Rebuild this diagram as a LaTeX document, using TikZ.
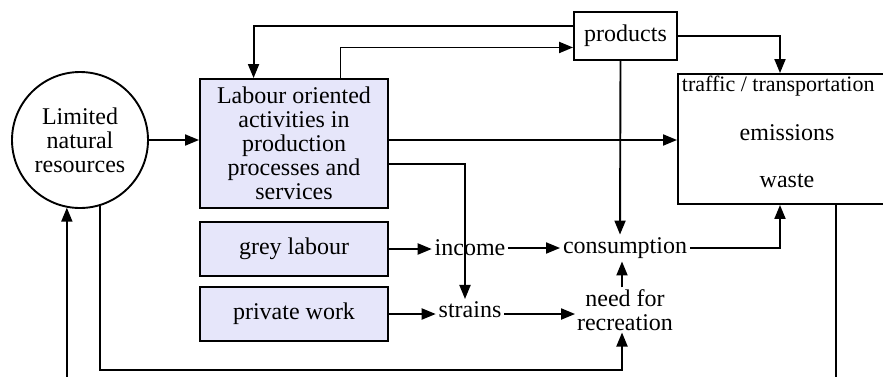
\documentclass[tikz,border=0pt]{standalone}
\usepackage{fontspec}
\setmainfont{Liberation Serif}
\usepackage{tikz}
\usetikzlibrary{shapes,calc,arrows.meta}
\definecolor{boxfill}{RGB}{230,230,250}

\begin{document}
\begin{tikzpicture}[x=1pt,y=-1pt,line width=1.9pt,
  every node/.style={font=\fontsize{24}{24}\selectfont},
  actbox/.style={draw,fill=boxfill,minimum width=188pt,align=center,inner sep=0pt},
  plainbox/.style={draw,minimum width=103pt,minimum height=48pt,inner sep=0pt},
  word/.style={inner sep=2pt,align=center},
  arr/.style={-{Triangle[length=14pt,width=11pt]}}]
\useasboundingbox (0,0) rectangle (883,376);
\node[draw,circle,minimum size=136pt,align=center,inner sep=0pt] (res) at (80,140) {Limited\\natural\\resources};
\node[actbox,minimum height=129pt] (labour) at (294,143.5) {Labour oriented\\activities in\\production\\processes and\\services};
\node[actbox,minimum height=54pt] (grey) at (294,249) {grey labour};
\node[actbox,minimum height=54pt] (private) at (294,314) {private work};
\node[plainbox] (products) at (625.5,36) {products};
\node[draw,minimum width=218pt,minimum height=130pt] (traffic) at (787,139) {};
\node[anchor=west,inner sep=0pt,font=\fontsize{22}{24}\selectfont] (trafficlbl) at (681,86) {traffic / transportation};
\node[word] (emissions) at (787,133) {emissions};
\node[word] (waste) at (787,181) {waste};
\node[word] (income) at (470,248) {income};
\node[word] (strains) at (470,310) {strains};
\node[word] (consumption) at (625,248) {consumption};
\node[word,inner sep=1pt] (need) at (625,310) {need for\\recreation};
\coordinate (loopB) at (0,370);
\coordinate (loopC) at (0,392);
% arrows
\draw[arr] (res.east) -- (res.east -| labour.west);
\draw[arr] ($(products.north west)!0.3!(products.south west)$) -| ($(labour.north west)!0.287!(labour.north east)$);
\draw[arr] ($(labour.north west)!0.745!(labour.north east)$) |- ($(products.north west)!0.73!(products.south west)$);
\draw[arr] (labour.east |- res.east) -- (traffic.west |- res.east);
\draw[arr] ($(labour.east)+(0,20.5)$) -| ([xshift=-5pt]strains.north);
\draw[arr] ([xshift=-5pt]products.south) -- ([xshift=-5pt]consumption.north);
\draw[arr] (products.east) -| ([xshift=-7pt]traffic.north);
\draw[arr] (grey.east) -- (grey.east -| income.west);
\draw[arr] (income) -- (consumption);
\draw[arr] (consumption.east) -| ([xshift=-7pt]traffic.south);
\draw[arr] (private.east) -- (private.east -| strains.west);
\draw[arr] (strains.east |- private.east) -- (need.west |- private.east);
\draw[arr] ([xshift=-3pt]need.north) -- ([xshift=-3pt]consumption.south);
\draw[arr] (res.-73) -- (res.-73 |- loopB) -| ([xshift=-3pt]need.south);
\draw[arr] ([xshift=49pt]traffic.south) -- ([xshift=49pt]traffic.south |- loopC) -| (res.-101);
\end{tikzpicture}
\end{document}
